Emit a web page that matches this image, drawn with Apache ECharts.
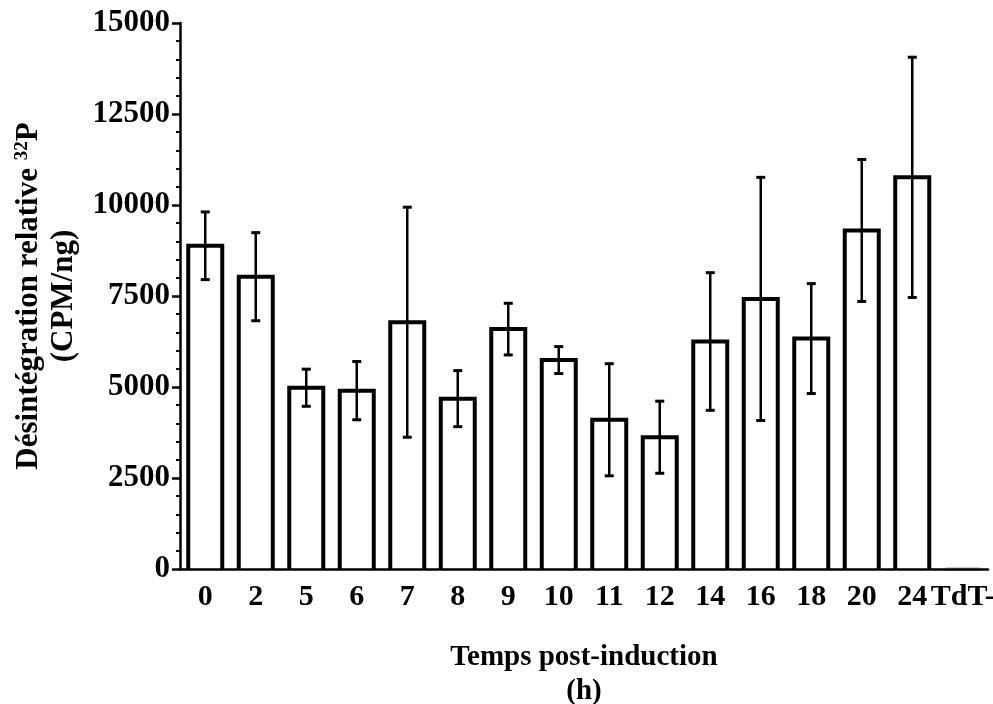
<!DOCTYPE html>
<html>
<head>
<meta charset="utf-8">
<script src="https://cdn.jsdelivr.net/npm/echarts@6/dist/echarts.min.js"></script>
<style>
html,body{margin:0;padding:0;background:#fff;}
#chart{width:993px;height:704px;}
</style>
</head>
<body>
<div id="chart"></div>
<script>
var categories = ['0','2','5','6','7','8','9','10','11','12','14','16','18','20','24','TdT-'];
var means = [8880, 8030, 4980, 4900, 6780, 4680, 6590, 5740, 4100, 3620, 6250, 7420, 6330, 9300, 10760, 0];
var errors = [930, 1210, 510, 800, 3160, 770, 710, 370, 1540, 990, 1890, 3340, 1510, 1950, 3300, null];
var yTicks = [0, 2500, 5000, 7500, 10000, 12500, 15000];

var FONT = '"Liberation Serif", "Times New Roman", serif';

var errData = [];
for (var i = 0; i < categories.length; i++) {
  if (errors[i] != null) errData.push([i, means[i] - errors[i], means[i] + errors[i]]);
}
var barData = means.map(function (v, i) { return [i, v]; });

var chart = echarts.init(document.getElementById('chart'), null, {renderer: 'canvas'});
chart.setOption({
  animation: false,
  backgroundColor: '#fff',
  grid: {left: 180, right: 5, top: 23, bottom: 135, containLabel: false, outerBoundsMode: 'none'},
  xAxis: {
    type: 'category',
    data: categories,
    z: 5,
    axisLine: {lineStyle: {color: '#000', width: 2.5}},
    axisTick: {alignWithLabel: true, length: 7, lineStyle: {color: '#000', width: 2.5}},
    axisLabel: {color: '#000', fontFamily: FONT, fontWeight: 'bold', fontSize: 30, margin: 13, interval: 0},
    name: 'Temps post-induction\n(h)',
    nameLocation: 'middle',
    nameGap: 72,
    nameTextStyle: {color: '#000', fontFamily: FONT, fontWeight: 'bold', fontSize: 29, lineHeight: 34}
  },
  yAxis: {
    type: 'value',
    min: yTicks[0],
    max: yTicks[yTicks.length - 1],
    interval: 2500,
    z: 5,
    axisLine: {show: true, lineStyle: {color: '#000', width: 2.5}},
    axisTick: {show: true, length: 8, lineStyle: {color: '#000', width: 2.5}},
    minorTick: {show: true, splitNumber: 5, length: 4, lineStyle: {color: '#000', width: 2}},
    splitLine: {show: false},
    axisLabel: {color: '#000', fontFamily: FONT, fontWeight: 'bold', fontSize: 31, margin: 10,
      formatter: function (v) { return String(v); }},
    name: '{a|Désintégration relative }{s|32}{a|P}\n{a|(CPM/ng)}',
    nameLocation: 'middle',
    nameRotate: 90,
    nameGap: 81,
    nameTextStyle: {
      color: '#000', fontFamily: FONT, fontWeight: 'bold', fontSize: 31, lineHeight: 35,
      rich: {
        a: {color: '#000', fontFamily: FONT, fontWeight: 'bold', fontSize: 31, lineHeight: 35},
        s: {color: '#000', fontFamily: FONT, fontWeight: 'bold', fontSize: 19, lineHeight: 35, padding: [0, 0, 14, 0]}
      }
    }
  },
  series: [
    {
      type: 'custom',
      data: barData,
      z: 2,
      renderItem: function (params, api) {
        var x = api.value(0);
        var v = api.value(1);
        var base = api.coord([x, 0]);
        var top = api.coord([x, v]);
        var hw = 17;
        var color = v === 0 ? '#ccc' : '#000';
        return {
          type: 'group',
          children: [
            {type: 'rect', shape: {x: base[0] - hw, y: top[1], width: hw * 2, height: base[1] - top[1]},
             style: {fill: '#fff'}},
            {type: 'polyline', shape: {points: [[base[0] - hw, base[1]], [base[0] - hw, top[1]], [base[0] + hw, top[1]], [base[0] + hw, base[1]]]},
             style: {stroke: color, lineWidth: 4, fill: null, lineJoin: 'miter'}}
          ]
        };
      }
    },
    {
      type: 'custom',
      data: errData,
      z: 3,
      renderItem: function (params, api) {
        var x = api.value(0);
        var lo = api.coord([x, api.value(1)]);
        var hi = api.coord([x, api.value(2)]);
        var hw = 4.5;
        var st = {stroke: '#000', lineWidth: 2.5};
        return {
          type: 'group',
          children: [
            {type: 'line', shape: {x1: hi[0], y1: hi[1], x2: lo[0], y2: lo[1]}, style: st},
            {type: 'line', shape: {x1: hi[0] - hw, y1: hi[1], x2: hi[0] + hw, y2: hi[1]}, style: {stroke: '#000', lineWidth: 3}},
            {type: 'line', shape: {x1: lo[0] - hw, y1: lo[1], x2: lo[0] + hw, y2: lo[1]}, style: {stroke: '#000', lineWidth: 3}}
          ]
        };
      }
    }
  ]
});
</script>
</body>
</html>
